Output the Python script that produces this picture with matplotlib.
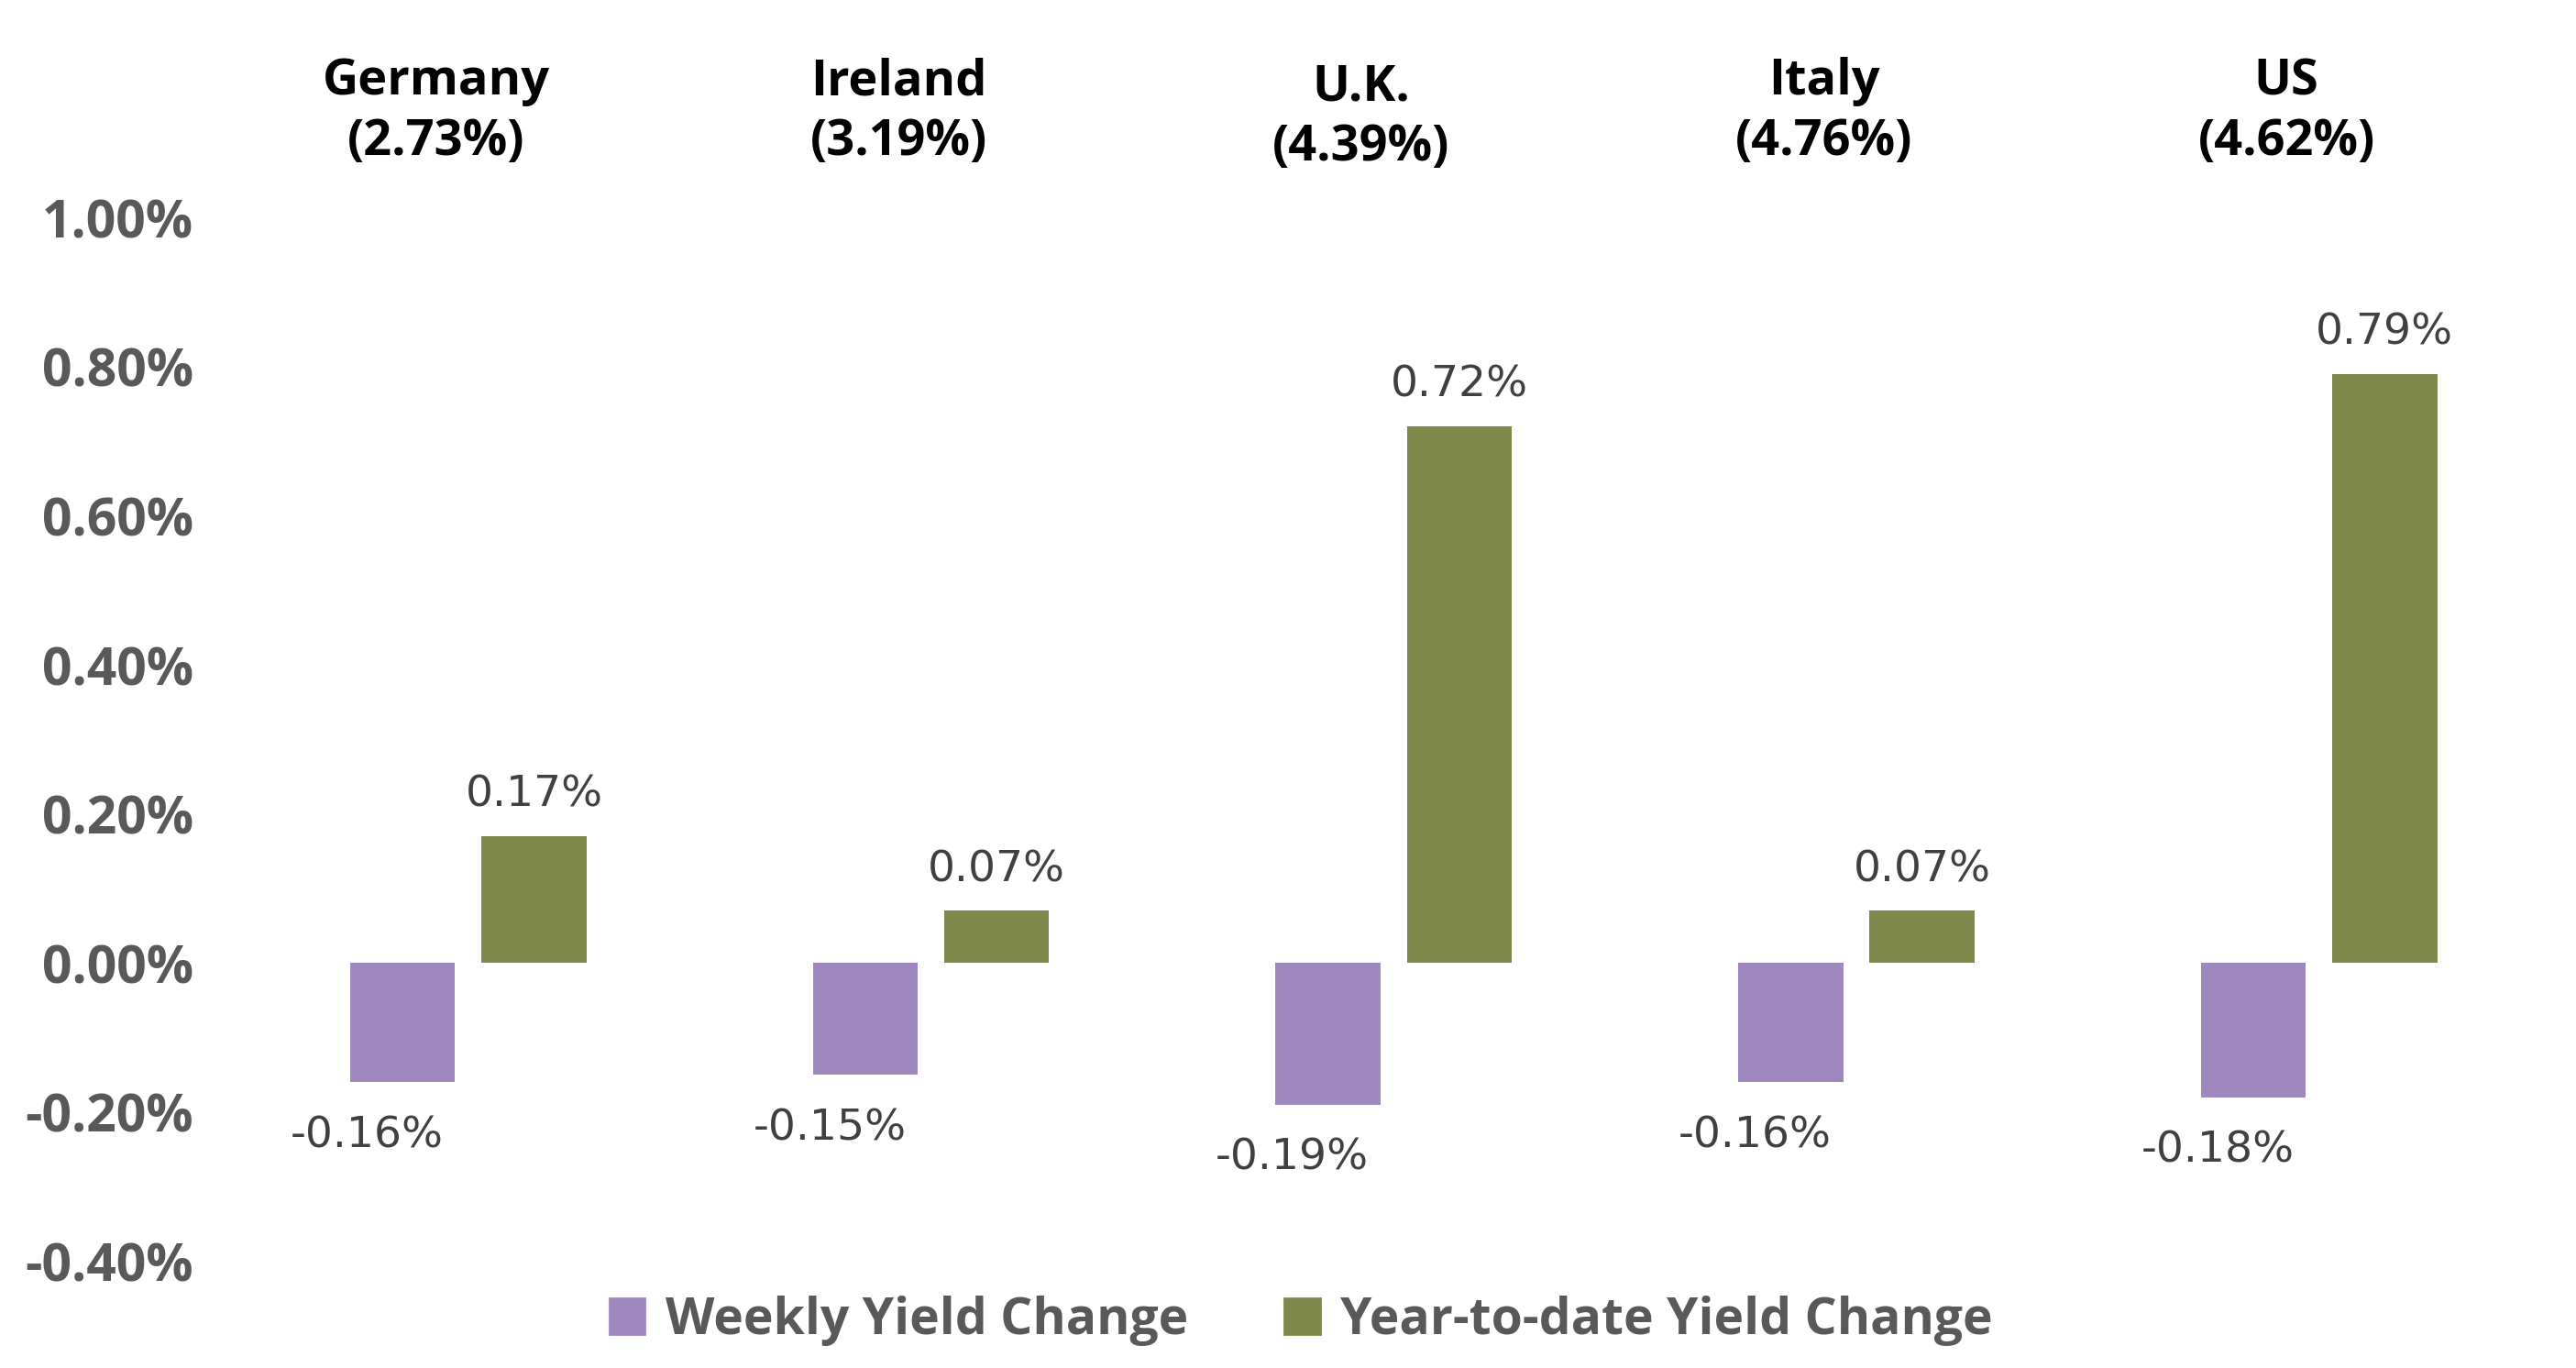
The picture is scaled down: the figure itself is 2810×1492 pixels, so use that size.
import matplotlib.pyplot as plt
import matplotlib.transforms as mtransforms
from matplotlib.patches import Patch
import numpy as np

# Data.
countries = ['Germany', 'Ireland', 'U.K.', 'Italy', 'US']
yields = ['2.73%', '3.19%', '4.39%', '4.76%', '4.62%']
weekly = [-0.16, -0.15, -0.19, -0.16, -0.18]
ytd = [0.17, 0.07, 0.72, 0.07, 0.79]
series_names = ['Weekly Yield Change', 'Year-to-date Yield Change']
yticks = [-0.4, -0.2, 0.0, 0.2, 0.4, 0.6, 0.8, 1.0]

purple = '#9F88BE'
green = '#7E894B'
tick_grey = '#595959'
label_grey = '#404040'

plt.rcParams['font.family'] = ['Open Sans', 'DejaVu Sans']

fig = plt.figure(figsize=(14.05, 7.46), dpi=200)
ax = fig.add_axes([0.092, 0.078, 0.898, 0.763])

x = np.arange(len(countries))
w = 0.227
off = 0.142
b1 = ax.bar(x - off, weekly, w, color=purple)
b2 = ax.bar(x + off, ytd, w, color=green)

for rect, v in zip(b1, weekly):
    ax.annotate('{:.2f}%'.format(v), (rect.get_x() + rect.get_width() / 2, v),
                xytext=(-14, -13), textcoords='offset points', ha='center', va='top',
                fontsize=17, color=label_grey, family='DejaVu Sans')
for rect, v in zip(b2, ytd):
    ax.annotate('{:.2f}%'.format(v), (rect.get_x() + rect.get_width() / 2, v),
                xytext=(0, 8), textcoords='offset points', ha='center', va='bottom',
                fontsize=17, color=label_grey, family='DejaVu Sans')

# Category headers above the plot.
trans = mtransforms.blended_transform_factory(ax.transData, fig.transFigure)
for i, (c, yl) in enumerate(zip(countries, yields)):
    ypos = 0.914 if c == 'U.K.' else 0.918
    ax.text(i - 0.07, ypos, '{}\n({})'.format(c, yl), transform=trans, ha='center', va='center',
            fontsize=19.5, fontweight='bold', color='black', linespacing=1.3)

ax.set_xlim(-0.5, len(countries) - 0.5)
ax.set_ylim(-0.4, 1.0)
ax.set_yticks(yticks)
ax.set_yticklabels(['{:.2f}%'.format(t) for t in yticks])
ax.set_xticks([])
ax.tick_params(axis='y', length=0, pad=17, labelsize=20.5, labelcolor=tick_grey)
for lab in ax.get_yticklabels():
    lab.set_fontweight('bold')
for s in ax.spines.values():
    s.set_visible(False)

handles = [Patch(color=purple), Patch(color=green)]
leg = fig.legend(handles, series_names, loc='lower center', bbox_to_anchor=(0.505, -0.017), ncol=2,
                 frameon=False, handlelength=0.7, handleheight=0.7, handletextpad=0.4,
                 columnspacing=1.9, prop={'size': 19.9, 'weight': 'bold'})
for t in leg.get_texts():
    t.set_color(tick_grey)

fig.savefig('out.png', dpi=200, facecolor='white')
